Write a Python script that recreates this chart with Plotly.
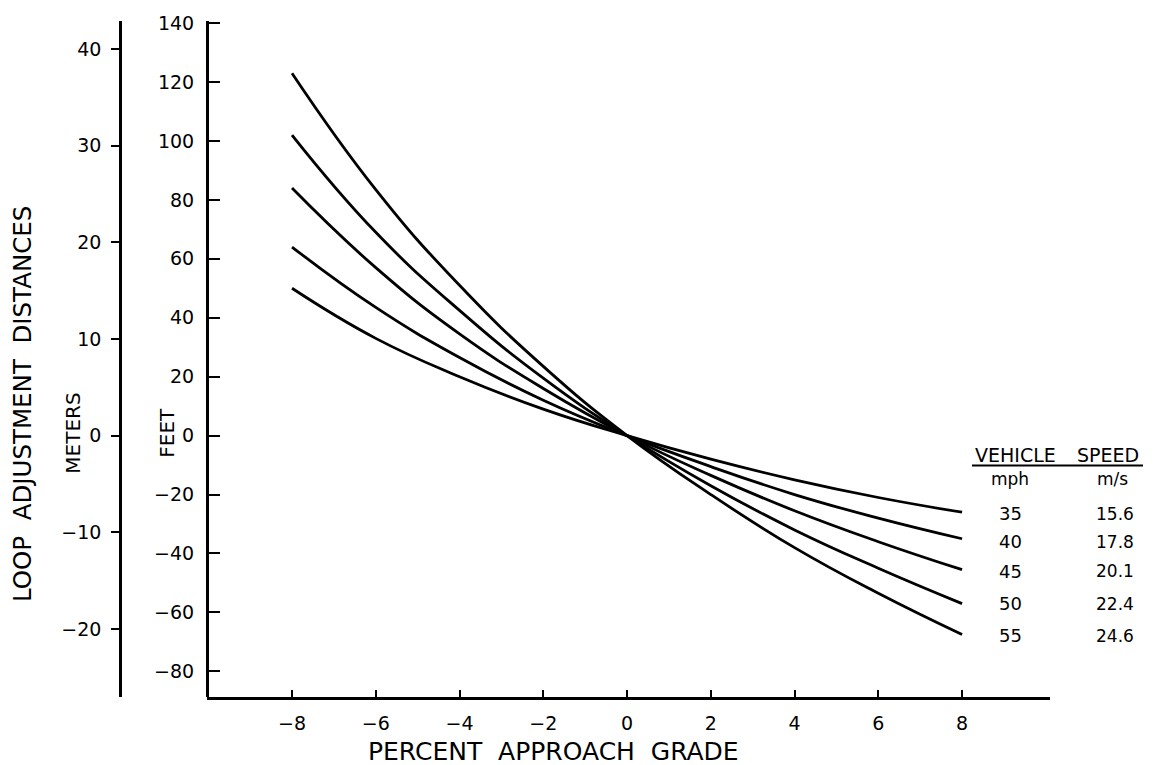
import plotly.graph_objects as go

# ---- data ----
grade = [-8, -6, -4, -2, 0, 2, 4, 6, 8]
d35 = [50, 33, 20, 9, 0, -8, -15, -21, -26]
d40 = [64, 43.5, 26.5, 12, 0, -10.5, -20, -28, -35]
d45 = [84, 57, 34.5, 16, 0, -13.5, -25.5, -36, -45.5]
d50 = [102, 69, 42.5, 19.5, 0, -17, -32, -45, -57]
d55 = [123, 83.5, 51, 23.5, 0, -20, -38, -53.5, -67.5]
speeds_mph = ["35", "40", "45", "50", "55"]
speeds_ms = ["15.6", "17.8", "20.1", "22.4", "24.6"]
feet_ticks = [-80, -60, -40, -20, 0, 20, 40, 60, 80, 100, 120, 140]
meter_ticks = [-20, -10, 0, 10, 20, 30, 40]
FT_PER_M = 3.2808

W, H = 1170, 765
ML, MR, MT, MB = 120, 120, 14, 68
PW, PH = W - ML - MR, H - MT - MB


def px(x):
    return (x - ML) / PW


def py(y):
    return (H - MB - y) / PH


FONT = "DejaVu Sans"
fig = go.Figure()
for ys in [d35, d40, d45, d50, d55]:
    fig.add_trace(go.Scatter(
        x=grade, y=ys, mode="lines",
        line=dict(color="black", width=2.8, shape="spline", smoothing=1.3),
        showlegend=False, hoverinfo="skip"))
# invisible trace to attach the metres axis
fig.add_trace(go.Scatter(x=[0], y=[0], yaxis="y2", mode="markers",
                         marker=dict(opacity=0), showlegend=False, hoverinfo="skip"))

ylo, yhi = -88.7, 140.7
xdom0 = px(207)
TICKSIZE = 19
fig.update_layout(
    width=W, height=H,
    margin=dict(l=ML, r=MR, t=MT, b=MB),
    paper_bgcolor="white", plot_bgcolor="white",
    font=dict(family=FONT, color="black"),
    xaxis=dict(domain=[xdom0, 1], range=[-10.03, 10.1], tickvals=grade,
               ticks="inside", ticklen=7, tickwidth=2, tickcolor="black",
               showline=True, linewidth=3, linecolor="black",
               showgrid=False, zeroline=False, tickfont=dict(size=TICKSIZE),
               ticklabelstandoff=7, anchor="y"),
    yaxis=dict(anchor="free", position=xdom0, range=[ylo, yhi], tickvals=feet_ticks,
               ticks="inside", ticklen=11, tickwidth=2, tickcolor="black",
               showline=True, linewidth=3, linecolor="black",
               showgrid=False, zeroline=False, tickfont=dict(size=TICKSIZE),
               ticklabelstandoff=8),
    yaxis2=dict(overlaying="y", anchor="free", position=0, side="left",
                range=[ylo / FT_PER_M, yhi / FT_PER_M], tickvals=meter_ticks,
                ticks="outside", ticklen=8, tickwidth=2, tickcolor="black",
                showline=True, linewidth=2.5, linecolor="black",
                showgrid=False, zeroline=False, tickfont=dict(size=TICKSIZE),
                ticklabelstandoff=6),
)


def ann(text, x, y, size, angle=0, xanchor="center"):
    fig.add_annotation(text=text, x=px(x), y=py(y), xref="paper", yref="paper",
                       showarrow=False, textangle=angle, xanchor=xanchor,
                       yanchor="middle", font=dict(size=size, family=FONT, color="black"))


ann("LOOP  ADJUSTMENT  DISTANCES", 22, 401, 24.5, angle=-90)
ann("METERS", 73, 431, 20, angle=-90)
ann("FEET", 167, 430, 20, angle=-90)
ann("PERCENT  APPROACH  GRADE", 553, 752, 25)

ann("VEHICLE", 1015, 452, 19)
ann("SPEED", 1108, 452, 19)
ann("mph", 1010, 477, 17)
ann("m/s", 1112, 477, 17)
row_y = [512, 540, 570, 603, 635]
for m, s, yy in zip(speeds_mph, speeds_ms, row_y):
    ann(m, 1010, yy, 18)
    ann(s, 1094, yy, 17, xanchor="left")

fig.add_shape(type="line", xref="paper", yref="paper",
              x0=px(972), x1=px(1143), y0=py(463), y1=py(463),
              line=dict(color="black", width=2))

fig.write_html("out.html")
